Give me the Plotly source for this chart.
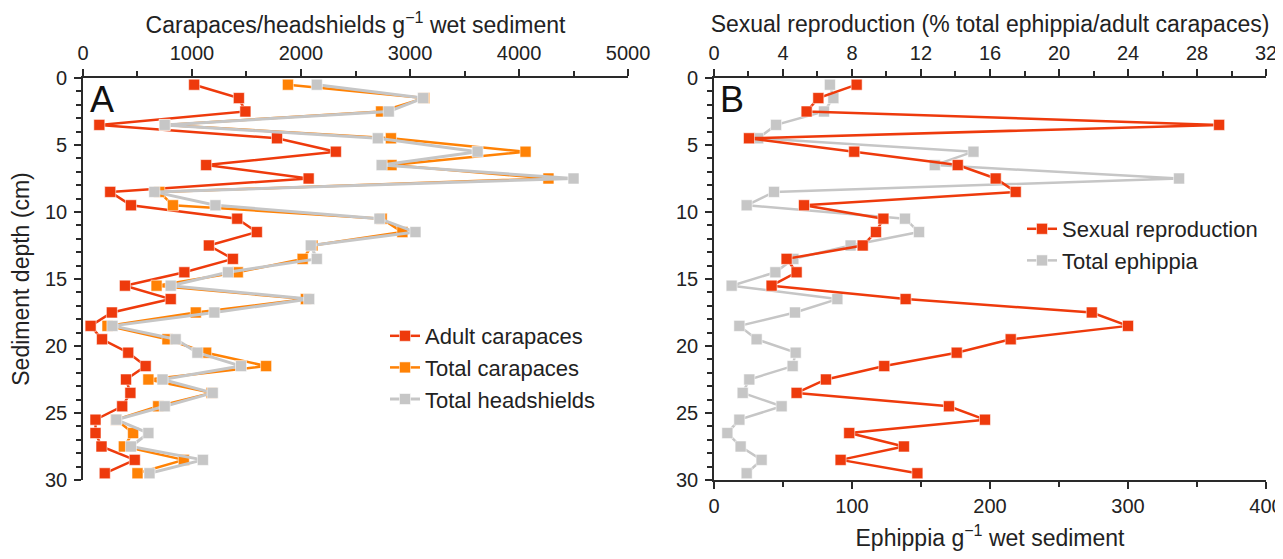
import plotly.graph_objects as go

depth = [0.5 + i for i in range(30)]

adult_carapaces = [1020, 1430, 1490, 150, 1780, 2320, 1130, 2070, 250, 440,
                   1415, 1595, 1155, 1375, 930, 385, 805, 265, 70, 175,
                   415, 575, 395, 435, 360, 115, 115, 170, 475, 200]
total_carapaces = [1880, 3130, 2735, 750, 2825, 4060, 2830, 4270, 700, 825,
                   2740, 2930, 2105, 2015, 1420, 675, 2045, 1035, 225, 775,
                   1130, 1680, 600, 1180, 690, 305, 460, 375, 925, 500]
total_headshields = [2145, 3120, 2805, 750, 2705, 3620, 2740, 4500, 655, 1215,
                     2720, 3050, 2090, 2145, 1330, 805, 2075, 1205, 270, 850,
                     1050, 1450, 730, 1190, 750, 305, 600, 440, 1100, 610]

sexual_reproduction = [8.27, 6.05, 5.37, 29.28, 2.03, 8.13, 14.13, 16.33, 17.49, 5.22,
                       9.82, 9.39, 8.62, 4.21, 4.79, 3.34, 11.11, 21.9, 24.0, 17.2,
                       14.07, 9.87, 6.49, 4.79, 13.62, 15.71, 7.84, 11.01, 7.34, 11.79]
total_ephippia = [84, 86.5, 79.7, 45, 32, 188, 160, 337, 43.5, 23.7,
                  138.4, 148.6, 99, 57.5, 44.5, 12.8, 89.4, 58.7, 18.4, 30.9,
                  59.2, 57, 25.6, 20.8, 49, 18.4, 9.7, 19.3, 34.5, 23.7]

RED = "#EE3A0C"
ORANGE = "#FF8205"
GRAY = "#C6C6C6"
AX = "#2A2A2A"
FONT = "Liberation Sans, Arial, sans-serif"

fig = go.Figure()

def mk(color):
    return dict(symbol="square", size=11, color=color,
                line=dict(color="rgba(255,255,255,0.7)", width=0.8))

fig.add_trace(go.Scatter(x=adult_carapaces, y=depth, mode="lines+markers",
                         name="Adult carapaces", line=dict(color=RED, width=2.5),
                         marker=mk(RED), xaxis="x", yaxis="y", legend="legend"))
fig.add_trace(go.Scatter(x=total_carapaces, y=depth, mode="lines+markers",
                         name="Total carapaces", line=dict(color=ORANGE, width=2.5),
                         marker=mk(ORANGE), xaxis="x", yaxis="y", legend="legend"))
fig.add_trace(go.Scatter(x=total_headshields, y=depth, mode="lines+markers",
                         name="Total headshields", line=dict(color=GRAY, width=3),
                         marker=mk(GRAY), xaxis="x", yaxis="y", legend="legend"))

fig.add_trace(go.Scatter(x=total_ephippia, y=depth, mode="lines+markers",
                         name="Total ephippia", line=dict(color=GRAY, width=2.5),
                         marker=mk(GRAY), xaxis="x2", yaxis="y2", legend="legend2"))
fig.add_trace(go.Scatter(x=sexual_reproduction, y=depth, mode="lines+markers",
                         name="Sexual reproduction", line=dict(color=RED, width=2.5),
                         marker=mk(RED), xaxis="x3", yaxis="y2", legend="legend2"))

# page body adds an 8px margin; figure is sized so the page does not scroll
W, H = 1275, 543
xA = [0.0588, 0.4863]
xB = [0.5537, 0.9867]
yD = [0.1308, 0.8711]

tickfont = dict(family=FONT, size=20, color="#222")
titlefont = dict(family=FONT, size=23, color="#222")

common = dict(showgrid=False, zeroline=False, showline=True, linecolor=AX, linewidth=1.5,
              ticks="outside", ticklen=7, tickwidth=1.5, tickcolor=AX, tickfont=tickfont,
              automargin=False, ticklabeloverflow="allow")
minor = lambda d: dict(dtick=d, ticks="outside", ticklen=5, tickwidth=1.5, tickcolor=AX, showgrid=False)

fig.update_layout(
    width=W, height=H,
    margin=dict(l=0, r=0, t=0, b=0),
    paper_bgcolor="white", plot_bgcolor="white",
    font=dict(family=FONT, color="#222"),
    xaxis=dict(domain=xA, anchor="y", side="top", range=[0, 5000], dtick=1000,
               minor=minor(500), ticklabelstandoff=1,
               title=dict(text="Carapaces/headshields g<sup>−1</sup> wet sediment",
                          font=titlefont, standoff=3), **common),
    yaxis=dict(domain=yD, anchor="x", range=[30, 0], dtick=5, minor=minor(1),
               ticklabelstandoff=3,
               title=dict(text="Sediment depth (cm)", font=titlefont, standoff=10), **common),
    xaxis2=dict(domain=xB, anchor="y2", side="bottom", range=[0, 400], dtick=100,
                minor=minor(50), ticklabelstandoff=0,
                title=dict(text="Ephippia g<sup>−1</sup> wet sediment",
                           font=titlefont, standoff=23), **common),
    xaxis3=dict(overlaying="x2", anchor="y2", side="top", range=[0, 32], dtick=4,
                minor=minor(2), ticklabelstandoff=1,
                title=dict(text="Sexual reproduction (% total ephippia/adult carapaces)",
                           font=titlefont, standoff=3), **common),
    yaxis2=dict(domain=yD, anchor="x2", range=[30, 0], dtick=5, minor=minor(1),
                ticklabelstandoff=3, **common),
    legend=dict(x=0.2957, y=0.4346, xanchor="left", yanchor="top",
                font=dict(family=FONT, size=22, color="#222"),
                bgcolor="rgba(0,0,0,0)", tracegroupgap=0),
    legend2=dict(x=0.7953, y=0.6317, xanchor="left", yanchor="top",
                 font=dict(family=FONT, size=22, color="#222"),
                 bgcolor="rgba(0,0,0,0)", traceorder="reversed"),
    showlegend=True,
)

fig.add_annotation(text="A", x=0.0627, y=0.8306, xref="paper", yref="paper",
                   xanchor="left", yanchor="middle", showarrow=False,
                   font=dict(family=FONT, size=36, color="#111"))
fig.add_annotation(text="B", x=0.5569, y=0.8306, xref="paper", yref="paper",
                   xanchor="left", yanchor="middle", showarrow=False,
                   font=dict(family=FONT, size=36, color="#111"))

fig.write_html("out.html")
